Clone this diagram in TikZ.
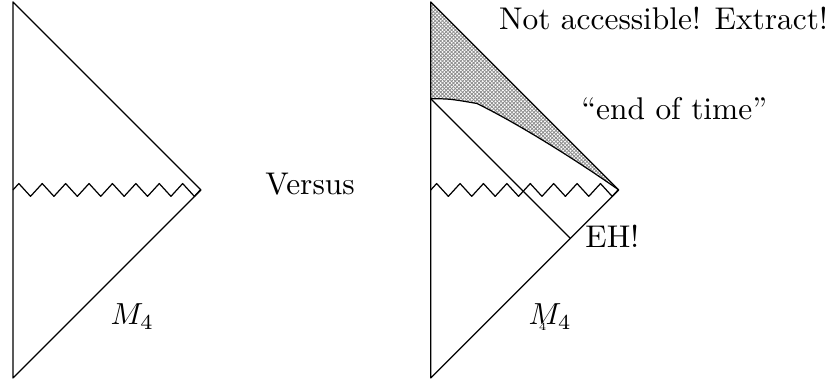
\documentclass[tikz,border=0pt]{standalone}
\usepackage{amsmath,amssymb}
\usepackage{xcolor}
\usepackage{tikz}
\usetikzlibrary{decorations.pathmorphing,patterns}
% fine cross hatching for the cut-off region
\pgfdeclarepatternformonly{finecross}{\pgfqpoint{-0.1pt}{-0.1pt}}{\pgfqpoint{1.3pt}{1.3pt}}{\pgfqpoint{1.2pt}{1.2pt}}{
  \pgfsetlinewidth{0.25pt}
  \pgfpathmoveto{\pgfqpoint{0pt}{0pt}}\pgfpathlineto{\pgfqpoint{1.2pt}{1.2pt}}
  \pgfpathmoveto{\pgfqpoint{0pt}{1.2pt}}\pgfpathlineto{\pgfqpoint{1.2pt}{0pt}}
  \pgfusepath{stroke}}
\tikzset{
  sing/.style={decorate,decoration={zigzag,segment length=7.68pt,amplitude=2.1pt}},
  lbl/.style={anchor=base,inner sep=0pt,font=\fontsize{10.3pt}{12pt}\selectfont}
}

\begin{document}
\begin{tikzpicture}[scale=1.084,line join=round]
  \useasboundingbox (-0.138,-0.053) rectangle (8.777,4.021);
  % --- left: plain diagram ---
  \begin{scope}
    \draw (0,0) -- (0,4) -- (2,2) -- cycle;
    \draw[sing] (0,2) -- (2,2);
    \node[lbl] (mleft) at (1.27,0.564) {$M_4$};
  \end{scope}
  \node[lbl] (versus) at (3.16,1.947) {Versus};
  % --- right: with horizon and end of time ---
  \begin{scope}[shift={(4.445,0)}]
    % region beyond the end of time
    \fill[pattern=finecross,pattern color=black!45]
      (0,4) -- (0,2.97) .. controls (0.2,2.97) .. (0.49,2.92)
      .. controls (0.9,2.72) and (1.5,2.35) .. (2,2) -- cycle;
    \draw (0,0) -- (0,4) -- (2,2) -- cycle;
    \draw[sing] (0,2) -- (2,2);
    % event horizon
    \draw (0,2.97) -- (1.485,1.485);
    % end of time
    \draw (0,2.97) .. controls (0.2,2.97) .. (0.49,2.92)
      .. controls (0.9,2.72) and (1.5,2.35) .. (2,2);
    \node[lbl] (mright) at (1.27,0.564) {$M_4$};
    \node[lbl,font=\fontsize{3.6pt}{4pt}\selectfont] (stray) at (1.19,0.5) {4};
    \node[lbl] (eh) at (1.93,1.383) {EH!};
    \node[lbl] (eot) at (2.59,2.745) {``end of time''};
    \node[lbl] (notacc) at (2.475,3.702) {Not accessible! Extract!};
  \end{scope}
\end{tikzpicture}
\end{document}
